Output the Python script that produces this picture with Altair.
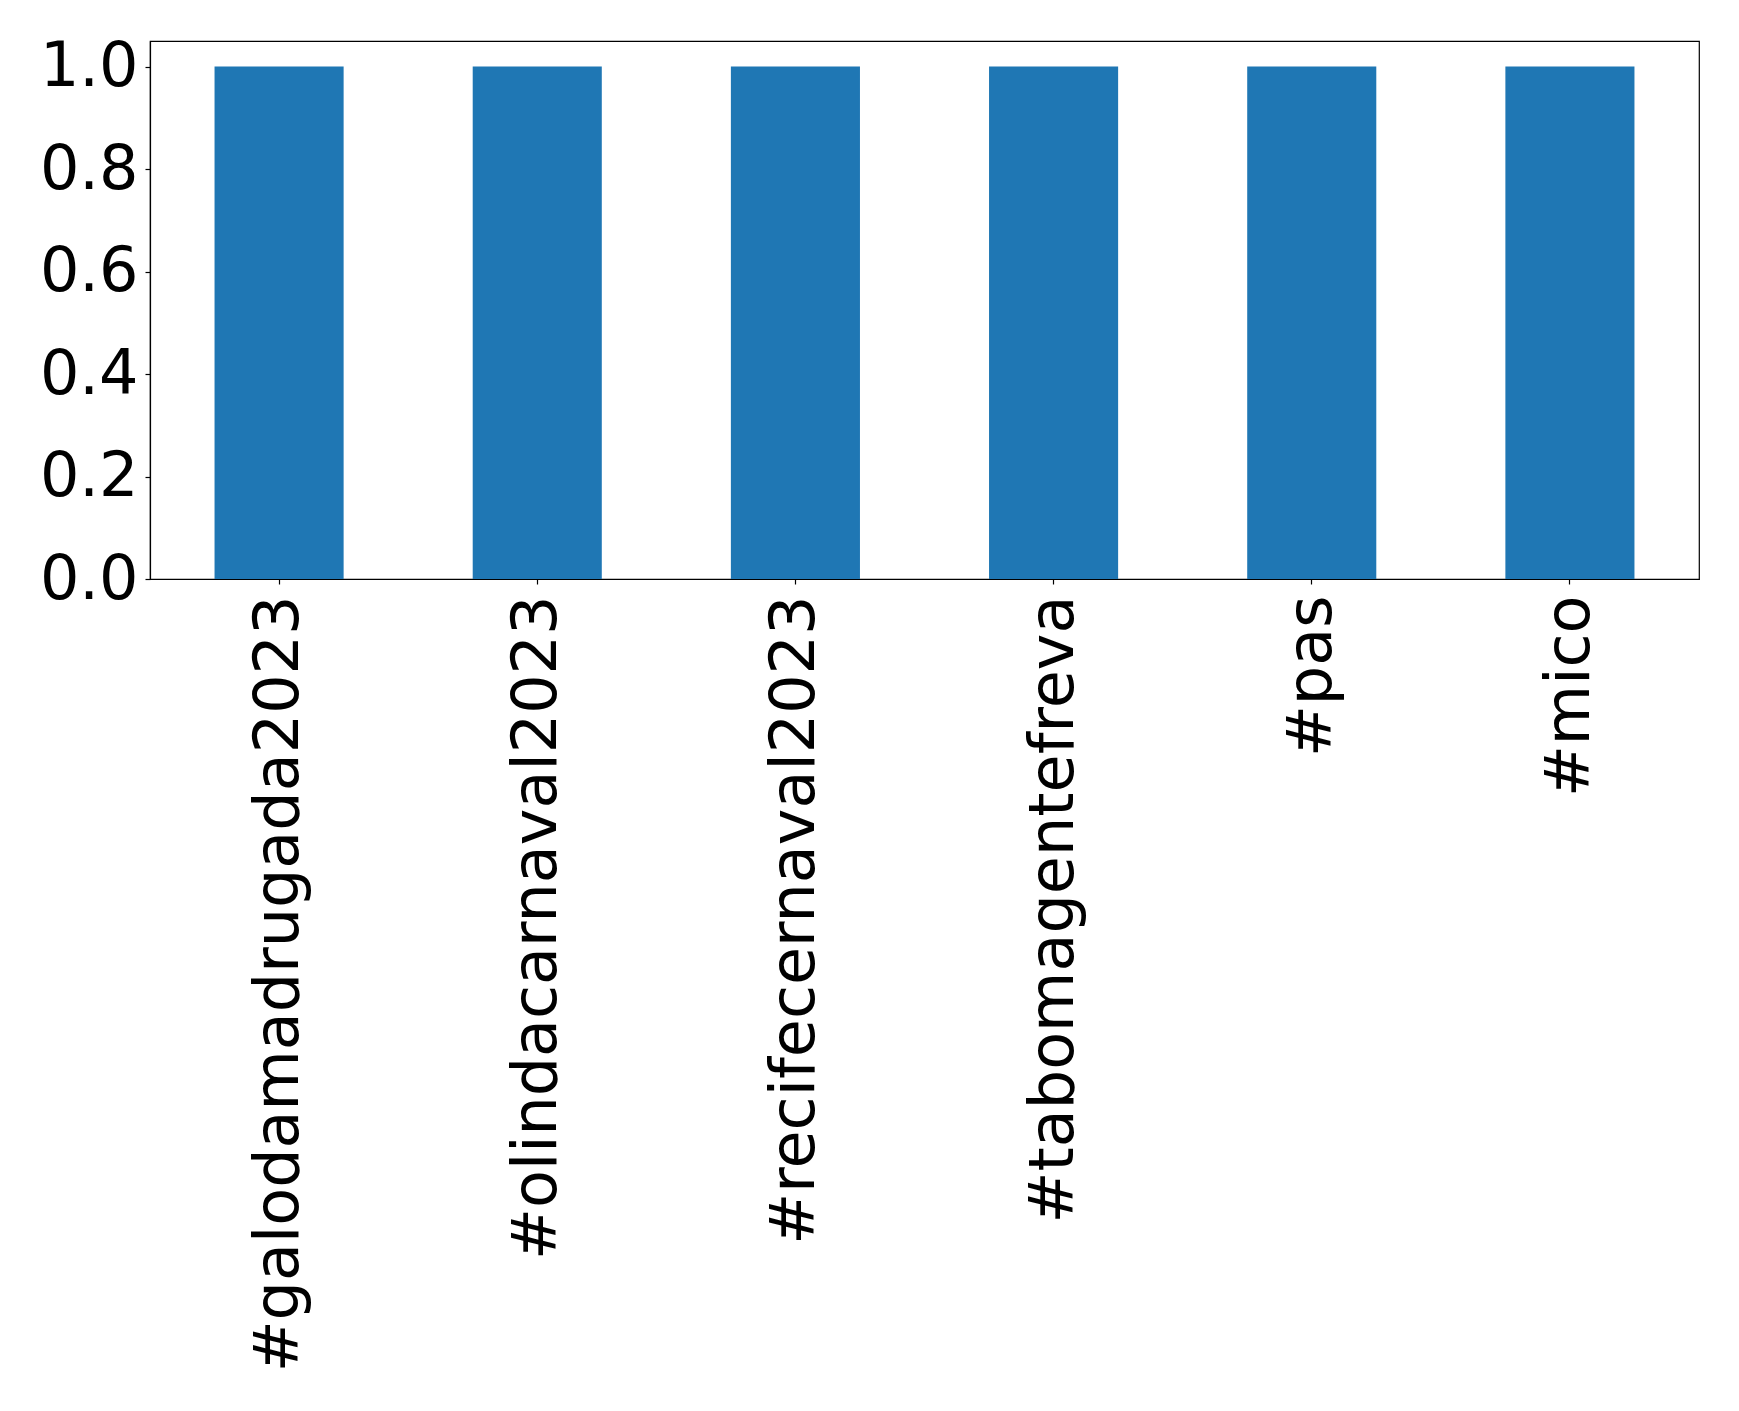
import altair as alt
import pandas as pd

tags = ["#galodamadrugada2023", "#olindacarnaval2023", "#recifecernaval2023",
        "#tabomagentefreva", "#pas", "#mico"]
counts = [1, 1, 1, 1, 1, 1]
y_ticks = [0.0, 0.2, 0.4, 0.6, 0.8, 1.0]

df = pd.DataFrame({"tag": tags, "count": counts})

chart = alt.Chart(df).mark_bar(color="#1f77b4").encode(
    x=alt.X("tag:N", sort=tags, title=None,
            scale=alt.Scale(paddingInner=0.5, paddingOuter=0.25),
            axis=alt.Axis(labelAngle=270, labelAlign="right", labelBaseline="middle",
                          labelFontSize=62, labelFont="DejaVu Sans", labelColor="black",
                          labelPadding=11, tickSize=5, tickColor="black",
                          domainColor="black", labelLimit=0)),
    y=alt.Y("count:Q", title=None,
            scale=alt.Scale(domain=[0, 1.05], nice=False),
            axis=alt.Axis(values=y_ticks, format=".1f", grid=False,
                          labelFontSize=62, labelFont="DejaVu Sans", labelColor="black",
                          labelPadding=7, tickSize=5, tickColor="black",
                          domainColor="black")),
).properties(
    width=1549, height=538,
    autosize=alt.AutoSizeParams(type="none"),
    padding={"left": 142, "top": 33, "right": 30, "bottom": 820},
).configure_view(stroke="black", strokeWidth=1.2).configure_axis(domainWidth=1.2, tickWidth=1.2)

chart.save("out.html", embed_options={"renderer": "svg", "actions": False})
